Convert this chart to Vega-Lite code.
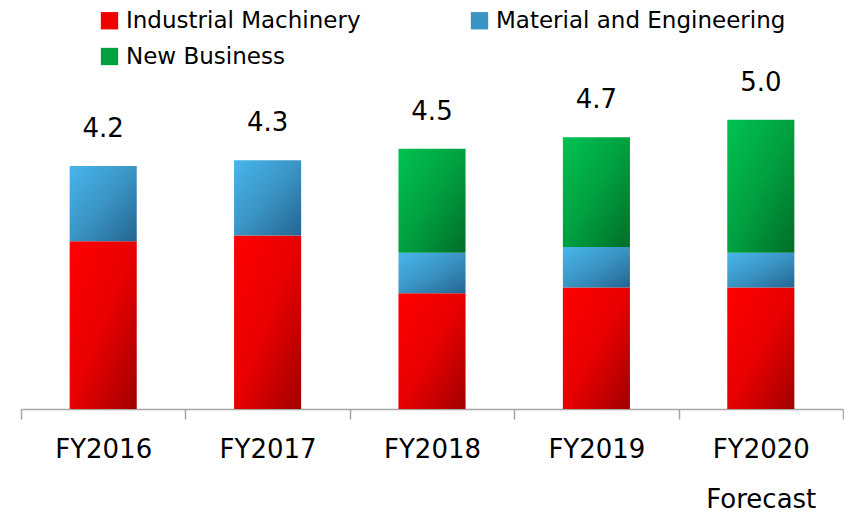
{
  "$schema": "https://vega.github.io/schema/vega-lite/v6.json",
  "width": 822,
  "height": 347,
  "autosize": {"type": "none"},
  "padding": {"left": 21, "top": 62, "right": 1, "bottom": 103},
  "background": "white",
  "config": {
    "view": {"stroke": null},
    "font": "DejaVu Sans"
  },
  "datasets": {
    "segments": [
      {"year": "FY2016", "segment": "Industrial Machinery", "k": 1, "value": 2.9},
      {"year": "FY2016", "segment": "Material and Engineering", "k": 2, "value": 1.3},
      {"year": "FY2017", "segment": "Industrial Machinery", "k": 1, "value": 3.0},
      {"year": "FY2017", "segment": "Material and Engineering", "k": 2, "value": 1.3},
      {"year": "FY2018", "segment": "Industrial Machinery", "k": 1, "value": 2.0},
      {"year": "FY2018", "segment": "Material and Engineering", "k": 2, "value": 0.7},
      {"year": "FY2018", "segment": "New Business", "k": 3, "value": 1.8},
      {"year": "FY2019", "segment": "Industrial Machinery", "k": 1, "value": 2.1},
      {"year": "FY2019", "segment": "Material and Engineering", "k": 2, "value": 0.7},
      {"year": "FY2019", "segment": "New Business", "k": 3, "value": 1.9},
      {"year": "FY2020", "segment": "Industrial Machinery", "k": 1, "value": 2.1},
      {"year": "FY2020", "segment": "Material and Engineering", "k": 2, "value": 0.6},
      {"year": "FY2020", "segment": "New Business", "k": 3, "value": 2.3}
    ],
    "totals": [
      {"year": "FY2016", "total": 4.2},
      {"year": "FY2017", "total": 4.3},
      {"year": "FY2018", "total": 4.5},
      {"year": "FY2019", "total": 4.7},
      {"year": "FY2020", "total": 5.0}
    ]
  },
  "layer": [
    {
      "data": {"name": "segments"},
      "mark": {"type": "bar", "strokeWidth": 0, "width": {"band": 0.408}},
      "encoding": {
        "x": {
          "field": "year",
          "type": "nominal",
          "sort": null,
          "scale": {"paddingInner": 0, "paddingOuter": 0},
          "axis": {
            "title": null,
            "labelAngle": 0,
            "labelFont": "DejaVu Sans",
            "labelFontSize": 26,
            "labelColor": "#000000",
            "labelBaseline": "alphabetic",
            "labelPadding": 38,
            "labelLineHeight": 50,
            "labelExpr": "datum.value == 'FY2020' ? ['FY2020', 'Forecast'] : datum.value",
            "tickBand": "extent",
            "tickSize": 10,
            "tickColor": "#a6a6a6",
            "tickWidth": 1.5,
            "domainColor": "#a6a6a6",
            "domainWidth": 1.5,
            "grid": false
          }
        },
        "y": {
          "field": "value",
          "type": "quantitative",
          "stack": "zero",
          "scale": {"domain": [0, 6], "nice": false},
          "axis": null
        },
        "order": {"field": "k", "type": "quantitative", "sort": "ascending"},
        "color": {
          "condition": [
            {"test": "datum.segment === 'Industrial Machinery'", "value": {"gradient": "linear", "x1": 0, "y1": 0, "x2": 1, "y2": 1, "stops": [{"offset": 0, "color": "#ff0000"}, {"offset": 0.5, "color": "#e80000"}, {"offset": 1, "color": "#a00000"}]}},
            {"test": "datum.segment === 'Material and Engineering'", "value": {"gradient": "linear", "x1": 0, "y1": 0, "x2": 1, "y2": 1, "stops": [{"offset": 0, "color": "#48b6ec"}, {"offset": 0.5, "color": "#3a94c4"}, {"offset": 1, "color": "#246590"}]}}
          ],
          "value": {"gradient": "linear", "x1": 0, "y1": 0, "x2": 1, "y2": 1, "stops": [{"offset": 0, "color": "#00c252"}, {"offset": 0.5, "color": "#00a040"}, {"offset": 1, "color": "#006e28"}]}
        }
      }
    },
    {
      "data": {"name": "segments"},
      "mark": {"type": "square", "size": 0, "opacity": 0, "filled": true},
      "encoding": {
        "fill": {
          "field": "segment",
          "type": "nominal",
          "scale": {
            "domain": ["Industrial Machinery", "Material and Engineering", "New Business"],
            "range": ["#f00000", "#3a94c4", "#00a040"]
          },
          "legend": {
            "title": null,
            "orient": "none",
            "legendX": 77,
            "legendY": -53,
            "direction": "horizontal",
            "columns": 2,
            "columnPadding": 107,
            "rowPadding": 12,
            "symbolType": "square",
            "symbolSize": 300,
            "symbolOpacity": 1,
            "symbolStrokeWidth": 0,
            "labelFont": "DejaVu Sans",
            "labelFontSize": 23,
            "labelColor": "#000000",
            "labelOffset": 5,
            "labelLimit": 400,
            "encode": {
              "symbols": {
                "update": {
                  "strokeWidth": {"value": 0},
                  "fill": {"signal": "datum.value === 'Industrial Machinery' ? {id: 'lgIM', gradient: 'linear', x1: 0, y1: 0, x2: 1, y2: 1, stops: [{offset: 0, color: '#ff0000'}, {offset: 1, color: '#a00000'}]} : datum.value === 'Material and Engineering' ? {id: 'lgME', gradient: 'linear', x1: 0, y1: 0, x2: 1, y2: 1, stops: [{offset: 0, color: '#48b6ec'}, {offset: 1, color: '#246590'}]} : {id: 'lgNB', gradient: 'linear', x1: 0, y1: 0, x2: 1, y2: 1, stops: [{offset: 0, color: '#00c252'}, {offset: 1, color: '#006e28'}]}"},
                  "opacity": {"value": 1}
                }
              }
            }
          }
        }
      }
    },
    {
      "data": {"name": "totals"},
      "mark": {"type": "text", "font": "DejaVu Sans", "fontSize": 26, "color": "#000000", "baseline": "alphabetic", "dy": -29},
      "encoding": {
        "x": {"field": "year", "type": "nominal", "sort": null},
        "y": {"field": "total", "type": "quantitative"},
        "text": {"field": "total", "type": "quantitative", "format": ".1f"}
      }
    }
  ]
}
